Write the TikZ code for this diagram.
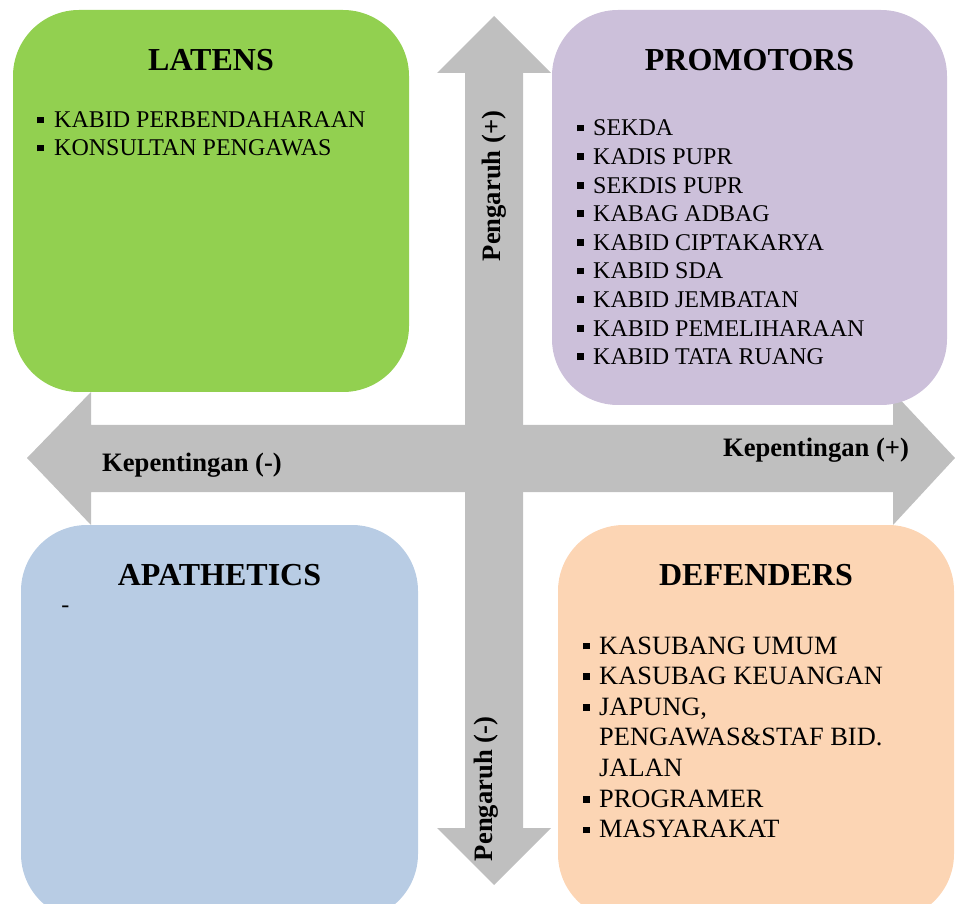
\documentclass[tikz,border=0pt]{standalone}
\usepackage{fontspec}
\setmainfont{Liberation Serif}
\usepackage{xcolor}
\usepackage{tikz}
\usetikzlibrary{positioning}

\definecolor{latgreen}{HTML}{92D050}
\definecolor{propurple}{HTML}{CCC0DA}
\definecolor{apablue}{HTML}{B8CCE4}
\definecolor{defpeach}{HTML}{FCD5B4}
\definecolor{axisgray}{HTML}{BFBFBF}

\newcommand{\blt}{\rule[2.3pt]{3.4pt}{3.4pt}}

\begin{document}
\begin{tikzpicture}[x=0.5pt, y=-0.5pt,
  quad/.style={rounded corners=33pt, inner sep=0pt},
  title/.style={font=\fontsize{16}{19}\selectfont\bfseries, inner sep=0pt},
  items/.style={anchor=base west, inner sep=0pt},
  axislabel/.style={font=\fontsize{13.3}{16}\selectfont\bfseries, inner sep=0pt},
  axis/.style={fill=axisgray}]
\useasboundingbox (0,0) rectangle (955,904);
\clip (0,0) rectangle (955,904);

% Axes
\path[axis] (27,458) -- (91,392) -- (91,425) -- (893,425) -- (893,392) -- (955,458)
  -- (893,525) -- (893,492) -- (91,492) -- (91,525) -- cycle;
\path[axis] (494,16) -- (551,73) -- (523,73) -- (523,828) -- (551,828) -- (494,885)
  -- (437,828) -- (465,828) -- (465,73) -- (437,73) -- cycle;

% Boxes
\node[quad, fill=latgreen, minimum width=198pt, minimum height=191pt] (latens) at (211,201) {};
\node[quad, fill=propurple, minimum width=197.5pt, minimum height=197.5pt] (promotors) at (749.5,207.5) {};
\node[quad, fill=apablue, minimum width=198.5pt, minimum height=197.5pt] (apathetics) at (219.5,722.5) {};
\node[quad, fill=defpeach, minimum width=198pt, minimum height=197.5pt] (defenders) at (756,722.5) {};

% Titles
\node[title] (latensT) at ([yshift=-25pt]latens.north) {LATENS};
\node[title] (promotorsT) at ([yshift=-25pt]promotors.north) {PROMOTORS};
\node[title] (apatheticsT) at ([yshift=-25pt]apathetics.north) {APATHETICS};
\node[title] (defendersT) at ([yshift=-25pt]defenders.north) {DEFENDERS};

% Lists
\node[items] (latensL) at (37,128) {\fontsize{12}{14}\selectfont
  \begin{tabular}[t]{@{}l@{\hspace{5pt}}l@{}}
  \blt & KABID PERBENDAHARAAN\\
  \blt & KONSULTAN PENGAWAS
  \end{tabular}};
\node[items] (promotorsL) at (577,136) {\fontsize{12}{14.3}\selectfont
  \begin{tabular}[t]{@{}l@{\hspace{4.5pt}}l@{}}
  \blt & SEKDA\\
  \blt & KADIS PUPR\\
  \blt & SEKDIS PUPR\\
  \blt & KABAG ADBAG\\
  \blt & KABID CIPTAKARYA\\
  \blt & KABID SDA\\
  \blt & KABID JEMBATAN\\
  \blt & KABID PEMELIHARAAN\\
  \blt & KABID TATA RUANG
  \end{tabular}};
\node[items] (apatheticsL) at (61,612) {\fontsize{12}{14}\selectfont -};
\node[items] (defendersL) at (583,654) {\fontsize{13.2}{15.33}\selectfont
  \begin{tabular}[t]{@{}l@{\hspace{4.5pt}}l@{}}
  \blt & KASUBANG UMUM\\
  \blt & KASUBAG KEUANGAN\\
  \blt & JAPUNG,\\
       & PENGAWAS\&STAF BID.\\
       & JALAN\\
  \blt & PROGRAMER\\
  \blt & MASYARAKAT
  \end{tabular}};

% Axis labels
\node[axislabel] (kepMin) at (192,465) {Kepentingan (-)};
\node[axislabel] (kepPlus) at (816,450) {Kepentingan (+)};
\node[axislabel, rotate=90] (pengPlus) at (494,186) {Pengaruh (+)};
\node[axislabel, rotate=90] (pengMin) at (486,789) {Pengaruh (-)};

\end{tikzpicture}
\end{document}
